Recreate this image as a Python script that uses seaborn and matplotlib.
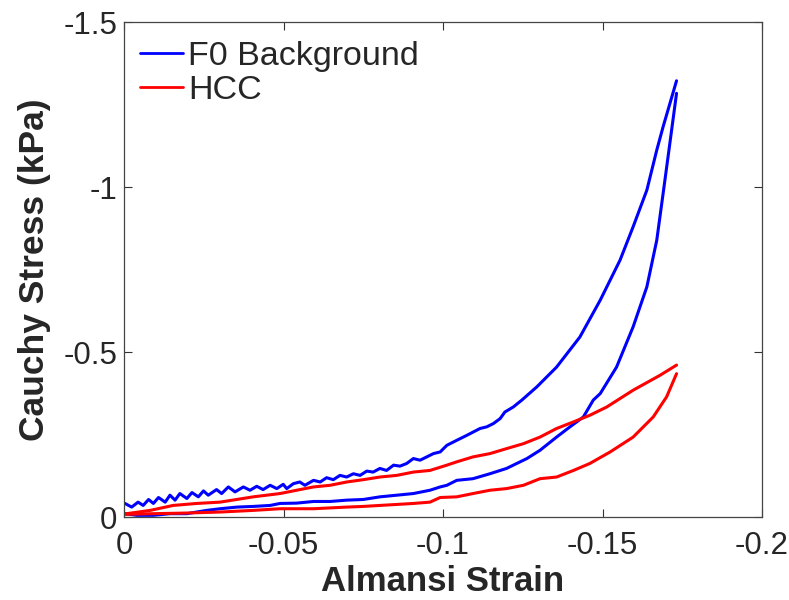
import numpy as np
import pandas as pd
import seaborn as sns
import matplotlib
matplotlib.use("Agg")
import matplotlib.pyplot as plt

# ---- data ----
f0_load_strain = [-0.0003, -0.0024, -0.0044, -0.0060, -0.0077, -0.0092, -0.0108, -0.0129, -0.0144, -0.0160,
                  -0.0175, -0.0197, -0.0213, -0.0233, -0.0249, -0.0264, -0.0290, -0.0306, -0.0327, -0.0348,
                  -0.0374, -0.0395, -0.0416, -0.0436, -0.0458, -0.0479, -0.0499, -0.0510, -0.0531, -0.0551,
                  -0.0567, -0.0594, -0.0615, -0.0635, -0.0656, -0.0677, -0.0698, -0.0719, -0.0740, -0.0761,
                  -0.0781, -0.0802, -0.0823, -0.0845, -0.0865, -0.0886, -0.0907, -0.0928, -0.0949, -0.0970,
                  -0.0991, -0.1012, -0.1022, -0.1053, -0.1074, -0.1094, -0.1116, -0.1137, -0.1158, -0.1179,
                  -0.1194, -0.1220, -0.1247, -0.1294, -0.1356, -0.1429, -0.1493, -0.1555, -0.1596, -0.1639,
                  -0.1670, -0.1690, -0.1732]
f0_load_stress = [-0.042, -0.031, -0.046, -0.036, -0.054, -0.042, -0.060, -0.046, -0.067, -0.052,
                  -0.072, -0.057, -0.075, -0.062, -0.080, -0.067, -0.084, -0.072, -0.092, -0.077,
                  -0.092, -0.082, -0.094, -0.084, -0.097, -0.087, -0.100, -0.087, -0.102, -0.107,
                  -0.097, -0.112, -0.107, -0.120, -0.114, -0.127, -0.122, -0.132, -0.127, -0.140,
                  -0.137, -0.148, -0.142, -0.158, -0.155, -0.163, -0.178, -0.173, -0.183, -0.193,
                  -0.198, -0.218, -0.223, -0.238, -0.248, -0.258, -0.269, -0.274, -0.284, -0.299,
                  -0.319, -0.334, -0.355, -0.395, -0.455, -0.546, -0.658, -0.779, -0.880, -0.991,
                  -1.112, -1.183, -1.322]

f0_unload_strain = [-0.1732, -0.1711, -0.1690, -0.1670, -0.1639, -0.1596, -0.1544, -0.1493, -0.1471, -0.1440,
                    -0.1398, -0.1356, -0.1304, -0.1263, -0.1199, -0.1147, -0.1094, -0.1043, -0.1012, -0.0991,
                    -0.0959, -0.0907, -0.0855, -0.0802, -0.0750, -0.0698, -0.0646, -0.0594, -0.0541, -0.0489,
                    -0.0458, -0.0405, -0.0354, -0.0301, -0.0259, -0.0197, -0.0144, -0.0092, -0.0040, -0.0003]
f0_unload_stress = [-1.284, -1.132, -0.981, -0.839, -0.698, -0.577, -0.455, -0.375, -0.355, -0.304,
                    -0.274, -0.243, -0.203, -0.178, -0.148, -0.132, -0.117, -0.112, -0.097, -0.092,
                    -0.082, -0.072, -0.067, -0.062, -0.054, -0.052, -0.048, -0.048, -0.043, -0.042,
                    -0.036, -0.033, -0.031, -0.026, -0.021, -0.011, -0.011, -0.006, -0.006, -0.011]

hcc_load_strain = [-0.0008, -0.0082, -0.0154, -0.0228, -0.0301, -0.0405, -0.0489, -0.0541, -0.0594, -0.0646,
                   -0.0698, -0.0750, -0.0802, -0.0855, -0.0907, -0.0959, -0.1012, -0.1043, -0.1094, -0.1147,
                   -0.1199, -0.1252, -0.1304, -0.1356, -0.1409, -0.1460, -0.1513, -0.1596, -0.1680, -0.1732]
hcc_load_stress = [-0.011, -0.021, -0.036, -0.042, -0.046, -0.062, -0.072, -0.082, -0.092, -0.097,
                   -0.107, -0.114, -0.122, -0.127, -0.137, -0.142, -0.158, -0.168, -0.183, -0.193,
                   -0.208, -0.223, -0.243, -0.269, -0.289, -0.309, -0.334, -0.385, -0.430, -0.461]

hcc_unload_strain = [-0.1732, -0.1701, -0.1659, -0.1596, -0.1524, -0.1460, -0.1409, -0.1356, -0.1304, -0.1252,
                     -0.1199, -0.1147, -0.1094, -0.1043, -0.0991, -0.0959, -0.0907, -0.0855, -0.0802, -0.0750,
                     -0.0698, -0.0594, -0.0489, -0.0405, -0.0301, -0.0197, -0.0092, -0.0003]
hcc_unload_stress = [-0.435, -0.365, -0.304, -0.243, -0.198, -0.163, -0.142, -0.122, -0.117, -0.097,
                     -0.087, -0.082, -0.072, -0.062, -0.060, -0.046, -0.042, -0.039, -0.036, -0.033,
                     -0.031, -0.026, -0.026, -0.021, -0.016, -0.013, -0.011, -0.009]

series_names = ["F0 Background", "HCC"]
x_ticks = [0, -0.05, -0.1, -0.15, -0.2]
x_tick_labels = ["0", "-0.05", "-0.1", "-0.15", "-0.2"]
y_ticks = [0, -0.5, -1, -1.5]
y_tick_labels = ["0", "-0.5", "-1", "-1.5"]

frames = []
for name, branch, xs, ys in [
    (series_names[0], "f0_load", f0_load_strain, f0_load_stress),
    (series_names[0], "f0_unload", f0_unload_strain, f0_unload_stress),
    (series_names[1], "hcc_load", hcc_load_strain, hcc_load_stress),
    (series_names[1], "hcc_unload", hcc_unload_strain, hcc_unload_stress),
]:
    frames.append(pd.DataFrame({"strain": xs, "stress": ys, "series": name, "branch": branch}))
df = pd.concat(frames, ignore_index=True)

sns.set_style("white")
plt.rcParams["font.family"] = ["Liberation Sans", "DejaVu Sans"]

fig = plt.figure(figsize=(7.89, 6.0), dpi=100)
ax = fig.add_axes([0.1572, 0.1378, 0.8086, 0.8255])

sns.lineplot(data=df, x="strain", y="stress", hue="series", units="branch",
             estimator=None, sort=False, palette={"F0 Background": "#0000ff", "HCC": "#ff0000"},
             linewidth=2.2, ax=ax)

ax.set_xlim(0, -0.2)
ax.set_ylim(0, -1.5)
ax.set_xticks(x_ticks)
ax.set_xticklabels(x_tick_labels)
ax.set_yticks(y_ticks)
ax.set_yticklabels(y_tick_labels)
ax.tick_params(axis="both", which="both", direction="in", length=6, width=0.8, color="#333333",
               labelsize=22.5, top=True, right=True, bottom=True, left=True)
ax.tick_params(axis="x", pad=9.5)
ax.tick_params(axis="y", pad=5)
for s in ax.spines.values():
    s.set_color("#444444")
    s.set_linewidth(0.9)

ax.set_xlabel("Almansi Strain", fontsize=25, fontweight="bold", labelpad=3)
ax.set_ylabel("Cauchy Stress (kPa)", fontsize=25.5, fontweight="bold", labelpad=9)

leg = ax.legend(loc="upper left", bbox_to_anchor=(0.025, 0.962), frameon=False, fontsize=24.5,
                handlelength=1.27, handletextpad=0.15, borderaxespad=0.0, labelspacing=0.1,
                borderpad=0.0)
for line in leg.get_lines():
    line.set_linewidth(2)

fig.savefig("out.png", dpi=100)
